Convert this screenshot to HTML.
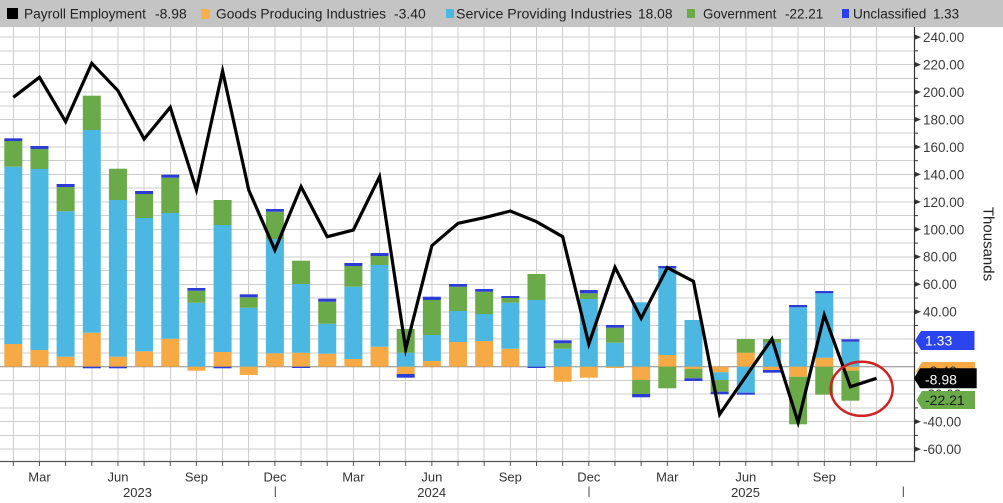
<!DOCTYPE html>
<html><head><meta charset="utf-8"><style>
html,body{margin:0;padding:0;background:#fff;}
svg{display:block;font-family:"Liberation Sans",Arial,sans-serif;}
.o{fill:#f6aa45}.b{fill:#4cb8e2}.g{fill:#6aaa48}.u{fill:#2c3dd6}
.gl{stroke:#cdcdcd;stroke-width:1;shape-rendering:crispEdges}
.yl{font-size:13.5px;fill:#3b3b3b}
.ml{font-size:13px;fill:#333;text-anchor:middle}
.lg{font-size:14px;fill:#222}
</style></head><body>
<svg width="1003" height="503" viewBox="0 0 1003 503" xmlns="http://www.w3.org/2000/svg">
<rect x="0" y="0" width="1003" height="503" fill="#fff"/>
<!-- legend bar -->
<rect x="0" y="0" width="1003" height="27" fill="#c4c4c4"/>
<rect x="7" y="8" width="11" height="11" fill="#000"/>
<text class="lg" x="24" y="18.5" textLength="122" lengthAdjust="spacingAndGlyphs">Payroll Employment</text>
<text class="lg" x="155" y="18.5" textLength="31.7" lengthAdjust="spacingAndGlyphs">-8.98</text>
<rect x="201" y="9" width="9" height="10" fill="#f6b14a"/>
<text class="lg" x="216" y="18.5" textLength="170" lengthAdjust="spacingAndGlyphs">Goods Producing Industries</text>
<text class="lg" x="394" y="18.5" textLength="31.7" lengthAdjust="spacingAndGlyphs">-3.40</text>
<rect x="446" y="9" width="8" height="9" fill="#4cb8e2"/>
<text class="lg" x="456" y="18.5" textLength="176" lengthAdjust="spacingAndGlyphs">Service Providing Industries</text>
<text class="lg" x="638" y="18.5" textLength="34.5" lengthAdjust="spacingAndGlyphs">18.08</text>
<rect x="687" y="9" width="8" height="9" fill="#6aaa48"/>
<text class="lg" x="703" y="18.5" textLength="73.3" lengthAdjust="spacingAndGlyphs">Government</text>
<text class="lg" x="785" y="18.5" textLength="38.3" lengthAdjust="spacingAndGlyphs">-22.21</text>
<rect x="842" y="9" width="7" height="9" fill="#2a3ef0"/>
<text class="lg" x="853" y="18.5" textLength="73.3" lengthAdjust="spacingAndGlyphs">Unclassified</text>
<text class="lg" x="933" y="18.5" textLength="26" lengthAdjust="spacingAndGlyphs">1.33</text>

<!-- horizontal gridlines -->
<g class="gl">
<line x1="0" x2="914" y1="37.1" y2="37.1"/><line x1="0" x2="914" y1="50.8" y2="50.8"/>
<line x1="0" x2="914" y1="64.6" y2="64.6"/><line x1="0" x2="914" y1="78.3" y2="78.3"/>
<line x1="0" x2="914" y1="92.0" y2="92.0"/><line x1="0" x2="914" y1="105.8" y2="105.8"/>
<line x1="0" x2="914" y1="119.5" y2="119.5"/><line x1="0" x2="914" y1="133.2" y2="133.2"/>
<line x1="0" x2="914" y1="147.0" y2="147.0"/><line x1="0" x2="914" y1="160.7" y2="160.7"/>
<line x1="0" x2="914" y1="174.4" y2="174.4"/><line x1="0" x2="914" y1="188.2" y2="188.2"/>
<line x1="0" x2="914" y1="201.9" y2="201.9"/><line x1="0" x2="914" y1="215.6" y2="215.6"/>
<line x1="0" x2="914" y1="229.4" y2="229.4"/><line x1="0" x2="914" y1="243.1" y2="243.1"/>
<line x1="0" x2="914" y1="256.8" y2="256.8"/><line x1="0" x2="914" y1="270.6" y2="270.6"/>
<line x1="0" x2="914" y1="284.3" y2="284.3"/><line x1="0" x2="914" y1="298.0" y2="298.0"/>
<line x1="0" x2="914" y1="311.8" y2="311.8"/><line x1="0" x2="914" y1="325.5" y2="325.5"/>
<line x1="0" x2="914" y1="339.2" y2="339.2"/><line x1="0" x2="914" y1="353.0" y2="353.0"/>
<line x1="0" x2="914" y1="380.4" y2="380.4"/>
<line x1="0" x2="914" y1="394.2" y2="394.2"/><line x1="0" x2="914" y1="407.9" y2="407.9"/>
<line x1="0" x2="914" y1="421.6" y2="421.6"/><line x1="0" x2="914" y1="435.4" y2="435.4"/>
<line x1="0" x2="914" y1="449.1" y2="449.1"/>
</g>
<!-- vertical gridlines -->
<g class="gl">
<line x1="13.3" x2="13.3" y1="27" y2="461"/><line x1="39.46" x2="39.46" y1="27" y2="461"/>
<line x1="65.62" x2="65.62" y1="27" y2="461"/><line x1="91.78" x2="91.78" y1="27" y2="461"/>
<line x1="117.94" x2="117.94" y1="27" y2="461"/><line x1="144.1" x2="144.1" y1="27" y2="461"/>
<line x1="170.26" x2="170.26" y1="27" y2="461"/><line x1="196.42" x2="196.42" y1="27" y2="461"/>
<line x1="222.58" x2="222.58" y1="27" y2="461"/><line x1="248.74" x2="248.74" y1="27" y2="461"/>
<line x1="274.9" x2="274.9" y1="27" y2="461"/><line x1="301.06" x2="301.06" y1="27" y2="461"/>
<line x1="327.22" x2="327.22" y1="27" y2="461"/><line x1="353.38" x2="353.38" y1="27" y2="461"/>
<line x1="379.54" x2="379.54" y1="27" y2="461"/><line x1="405.7" x2="405.7" y1="27" y2="461"/>
<line x1="431.86" x2="431.86" y1="27" y2="461"/><line x1="458.02" x2="458.02" y1="27" y2="461"/>
<line x1="484.18" x2="484.18" y1="27" y2="461"/><line x1="510.34" x2="510.34" y1="27" y2="461"/>
<line x1="536.5" x2="536.5" y1="27" y2="461"/><line x1="562.66" x2="562.66" y1="27" y2="461"/>
<line x1="588.82" x2="588.82" y1="27" y2="461"/><line x1="614.98" x2="614.98" y1="27" y2="461"/>
<line x1="641.14" x2="641.14" y1="27" y2="461"/><line x1="667.3" x2="667.3" y1="27" y2="461"/>
<line x1="693.46" x2="693.46" y1="27" y2="461"/><line x1="719.62" x2="719.62" y1="27" y2="461"/>
<line x1="745.78" x2="745.78" y1="27" y2="461"/><line x1="771.94" x2="771.94" y1="27" y2="461"/>
<line x1="798.1" x2="798.1" y1="27" y2="461"/><line x1="824.26" x2="824.26" y1="27" y2="461"/>
<line x1="850.42" x2="850.42" y1="27" y2="461"/><line x1="876.58" x2="876.58" y1="27" y2="461"/>
</g>
<!-- zero line -->
<line x1="0" x2="914" y1="366.7" y2="366.7" stroke="#8a8a8a" stroke-width="1"/>

<!-- bars -->
<g>
<rect class="o" x="4.3" y="344" width="18" height="22.7"/><rect class="b" x="4.3" y="166.7" width="18" height="177.3"/><rect class="g" x="4.3" y="141" width="18" height="25.7"/><rect class="u" x="4.3" y="138.3" width="18" height="2.7"/>
<rect class="o" x="30.46" y="350" width="18" height="16.7"/><rect class="b" x="30.46" y="169" width="18" height="181"/><rect class="g" x="30.46" y="149" width="18" height="20"/><rect class="u" x="30.46" y="146" width="18" height="3"/>
<rect class="o" x="56.62" y="356.7" width="18" height="10"/><rect class="b" x="56.62" y="211.3" width="18" height="145.4"/><rect class="g" x="56.62" y="187" width="18" height="24.3"/><rect class="u" x="56.62" y="184" width="18" height="3"/>
<rect class="o" x="82.78" y="332.7" width="18" height="34"/><rect class="b" x="82.78" y="130" width="18" height="202.7"/><rect class="g" x="82.78" y="95.7" width="18" height="34.3"/><rect class="u" x="82.78" y="366.7" width="18" height="1.6"/>
<rect class="o" x="108.94" y="356.7" width="18" height="10"/><rect class="b" x="108.94" y="200" width="18" height="156.7"/><rect class="g" x="108.94" y="168.7" width="18" height="31.3"/><rect class="u" x="108.94" y="366.7" width="18" height="1.6"/>
<rect class="o" x="135.1" y="351.3" width="18" height="15.4"/><rect class="b" x="135.1" y="218" width="18" height="133.3"/><rect class="g" x="135.1" y="194" width="18" height="24"/><rect class="u" x="135.1" y="191" width="18" height="3"/>
<rect class="o" x="161.26" y="338.7" width="18" height="28"/><rect class="b" x="161.26" y="213" width="18" height="125.7"/><rect class="g" x="161.26" y="177.7" width="18" height="35.3"/><rect class="u" x="161.26" y="174.7" width="18" height="3"/>
<rect class="b" x="187.42" y="302.7" width="18" height="64"/><rect class="g" x="187.42" y="290.7" width="18" height="12"/><rect class="u" x="187.42" y="288" width="18" height="2.7"/><rect class="o" x="187.42" y="366.7" width="18" height="4"/>
<rect class="o" x="213.58" y="352" width="18" height="14.7"/><rect class="b" x="213.58" y="225" width="18" height="127"/><rect class="g" x="213.58" y="200" width="18" height="25"/><rect class="u" x="213.58" y="366.7" width="18" height="1.6"/>
<rect class="b" x="239.74" y="307.7" width="18" height="59"/><rect class="g" x="239.74" y="297.3" width="18" height="10.4"/><rect class="u" x="239.74" y="294.3" width="18" height="3"/><rect class="o" x="239.74" y="366.7" width="18" height="8.3"/>
<rect class="o" x="265.9" y="353.3" width="18" height="13.4"/><rect class="b" x="265.9" y="239" width="18" height="114.3"/><rect class="g" x="265.9" y="211.7" width="18" height="27.3"/><rect class="u" x="265.9" y="209" width="18" height="2.7"/>
<rect class="o" x="292.06" y="352.7" width="18" height="14"/><rect class="b" x="292.06" y="284" width="18" height="68.7"/><rect class="g" x="292.06" y="260.7" width="18" height="23.3"/><rect class="u" x="292.06" y="366.7" width="18" height="1.3"/>
<rect class="o" x="318.22" y="353.7" width="18" height="13"/><rect class="b" x="318.22" y="323.7" width="18" height="30"/><rect class="g" x="318.22" y="301.7" width="18" height="22"/><rect class="u" x="318.22" y="298.7" width="18" height="3"/>
<rect class="o" x="344.38" y="359" width="18" height="7.7"/><rect class="b" x="344.38" y="286.7" width="18" height="72.3"/><rect class="g" x="344.38" y="266" width="18" height="20.7"/><rect class="u" x="344.38" y="263" width="18" height="3"/>
<rect class="o" x="370.54" y="346.7" width="18" height="20"/><rect class="b" x="370.54" y="265" width="18" height="81.7"/><rect class="g" x="370.54" y="256" width="18" height="9"/><rect class="u" x="370.54" y="253" width="18" height="3"/>
<rect class="b" x="396.7" y="352.7" width="18" height="14"/><rect class="g" x="396.7" y="329" width="18" height="23.7"/><rect class="o" x="396.7" y="366.7" width="18" height="7.3"/><rect class="u" x="396.7" y="374" width="18" height="3.7"/>
<rect class="o" x="422.86" y="361" width="18" height="5.7"/><rect class="b" x="422.86" y="335" width="18" height="26"/><rect class="g" x="422.86" y="300" width="18" height="35"/><rect class="u" x="422.86" y="296.7" width="18" height="3.3"/>
<rect class="o" x="449.02" y="342" width="18" height="24.7"/><rect class="b" x="449.02" y="311" width="18" height="31"/><rect class="g" x="449.02" y="286.7" width="18" height="24.3"/><rect class="u" x="449.02" y="284" width="18" height="2.7"/>
<rect class="o" x="475.18" y="341" width="18" height="25.7"/><rect class="b" x="475.18" y="314" width="18" height="27"/><rect class="g" x="475.18" y="291.7" width="18" height="22.3"/><rect class="u" x="475.18" y="289" width="18" height="2.7"/>
<rect class="o" x="501.34" y="348.7" width="18" height="18"/><rect class="b" x="501.34" y="302.7" width="18" height="46"/><rect class="g" x="501.34" y="298" width="18" height="4.7"/><rect class="u" x="501.34" y="296" width="18" height="2"/>
<rect class="b" x="527.5" y="300" width="18" height="66.7"/><rect class="g" x="527.5" y="274" width="18" height="26"/><rect class="u" x="527.5" y="366.7" width="18" height="1.3"/>
<rect class="b" x="553.66" y="348.7" width="18" height="18"/><rect class="g" x="553.66" y="343.3" width="18" height="5.4"/><rect class="u" x="553.66" y="340.3" width="18" height="3"/><rect class="o" x="553.66" y="366.7" width="18" height="15"/>
<rect class="b" x="579.82" y="299" width="18" height="67.7"/><rect class="g" x="579.82" y="293.3" width="18" height="5.7"/><rect class="u" x="579.82" y="290" width="18" height="3.3"/><rect class="o" x="579.82" y="366.7" width="18" height="11"/>
<rect class="b" x="605.98" y="342.7" width="18" height="24"/><rect class="g" x="605.98" y="327.7" width="18" height="15"/><rect class="u" x="605.98" y="325" width="18" height="2.7"/><rect class="o" x="605.98" y="366.7" width="18" height="1.3"/>
<rect class="b" x="632.14" y="302.3" width="18" height="64.4"/><rect class="o" x="632.14" y="366.7" width="18" height="13.3"/><rect class="g" x="632.14" y="380" width="18" height="14"/><rect class="u" x="632.14" y="394" width="18" height="3.3"/>
<rect class="o" x="658.3" y="355" width="18" height="11.7"/><rect class="b" x="658.3" y="268.3" width="18" height="86.7"/><rect class="u" x="658.3" y="266" width="18" height="2.3"/><rect class="g" x="658.3" y="366.7" width="18" height="21.6"/>
<rect class="b" x="684.46" y="320" width="18" height="46.7"/><rect class="o" x="684.46" y="366.7" width="18" height="2.3"/><rect class="g" x="684.46" y="369" width="18" height="9.3"/><rect class="u" x="684.46" y="378.3" width="18" height="2.7"/>
<rect class="o" x="710.62" y="366.7" width="18" height="5.6"/><rect class="b" x="710.62" y="372.3" width="18" height="7.7"/><rect class="g" x="710.62" y="380" width="18" height="11.7"/><rect class="u" x="710.62" y="391.7" width="18" height="2.6"/>
<rect class="o" x="736.78" y="352.7" width="18" height="14"/><rect class="g" x="736.78" y="339" width="18" height="13.7"/><rect class="b" x="736.78" y="366.7" width="18" height="26"/><rect class="u" x="736.78" y="392.7" width="18" height="2"/>
<rect class="b" x="762.94" y="342.7" width="18" height="24"/><rect class="g" x="762.94" y="339" width="18" height="3.7"/><rect class="o" x="762.94" y="366.7" width="18" height="3.3"/><rect class="u" x="762.94" y="370" width="18" height="2.7"/>
<rect class="b" x="789.1" y="307.3" width="18" height="59.4"/><rect class="u" x="789.1" y="305" width="18" height="2.3"/><rect class="o" x="789.1" y="366.7" width="18" height="10"/><rect class="g" x="789.1" y="376.7" width="18" height="47.6"/>
<rect class="o" x="815.26" y="357.7" width="18" height="9"/><rect class="b" x="815.26" y="293.3" width="18" height="64.4"/><rect class="u" x="815.26" y="291" width="18" height="2.3"/><rect class="g" x="815.26" y="366.7" width="18" height="28"/>
<rect class="b" x="841.42" y="341.7" width="18" height="25"/><rect class="u" x="841.42" y="339.3" width="18" height="2.4"/><rect class="o" x="841.42" y="366.7" width="18" height="4"/><rect class="g" x="841.42" y="370.7" width="18" height="30"/>
</g>

<!-- payroll line -->
<polyline fill="none" stroke="#000" stroke-width="3.2" stroke-linejoin="miter" stroke-miterlimit="10" points="13.3,97.3 39.46,77.3 65.62,121.7 91.78,63.3 117.94,90.7 144.1,139 170.26,107.3 196.42,190 222.58,71 248.74,190 274.9,250 301.06,186.7 327.22,236.7 353.38,230 379.54,176.7 405.7,349 431.86,245.7 458.02,223.3 484.18,217.7 510.34,211 536.5,221.7 562.66,236.7 588.82,344 614.98,267.3 641.14,318.3 667.3,267.7 693.46,281.3 719.62,414.3 745.78,376.5 771.94,339 798.1,422.3 824.26,315 850.42,386.7 876.58,378.3"/>

<!-- red circle -->
<ellipse cx="861.7" cy="388.8" rx="31" ry="27" fill="none" stroke="#d02222" stroke-width="2.5"/>

<!-- axes -->
<line x1="914.5" x2="914.5" y1="27" y2="462" stroke="#333" stroke-width="1.2"/>
<line x1="0" x2="915" y1="461.5" y2="461.5" stroke="#555" stroke-width="1.2"/>
<!-- bottom ticks -->
<g stroke="#555" stroke-width="1">
<line x1="13.3" x2="13.3" y1="461" y2="466"/><line x1="39.46" x2="39.46" y1="461" y2="466"/><line x1="65.62" x2="65.62" y1="461" y2="466"/><line x1="91.78" x2="91.78" y1="461" y2="466"/><line x1="117.94" x2="117.94" y1="461" y2="466"/><line x1="144.1" x2="144.1" y1="461" y2="466"/><line x1="170.26" x2="170.26" y1="461" y2="466"/><line x1="196.42" x2="196.42" y1="461" y2="466"/><line x1="222.58" x2="222.58" y1="461" y2="466"/><line x1="248.74" x2="248.74" y1="461" y2="466"/><line x1="274.9" x2="274.9" y1="461" y2="466"/><line x1="301.06" x2="301.06" y1="461" y2="466"/><line x1="327.22" x2="327.22" y1="461" y2="466"/><line x1="353.38" x2="353.38" y1="461" y2="466"/><line x1="379.54" x2="379.54" y1="461" y2="466"/><line x1="405.7" x2="405.7" y1="461" y2="466"/><line x1="431.86" x2="431.86" y1="461" y2="466"/><line x1="458.02" x2="458.02" y1="461" y2="466"/><line x1="484.18" x2="484.18" y1="461" y2="466"/><line x1="510.34" x2="510.34" y1="461" y2="466"/><line x1="536.5" x2="536.5" y1="461" y2="466"/><line x1="562.66" x2="562.66" y1="461" y2="466"/><line x1="588.82" x2="588.82" y1="461" y2="466"/><line x1="614.98" x2="614.98" y1="461" y2="466"/><line x1="641.14" x2="641.14" y1="461" y2="466"/><line x1="667.3" x2="667.3" y1="461" y2="466"/><line x1="693.46" x2="693.46" y1="461" y2="466"/><line x1="719.62" x2="719.62" y1="461" y2="466"/><line x1="745.78" x2="745.78" y1="461" y2="466"/><line x1="771.94" x2="771.94" y1="461" y2="466"/><line x1="798.1" x2="798.1" y1="461" y2="466"/><line x1="824.26" x2="824.26" y1="461" y2="466"/><line x1="850.42" x2="850.42" y1="461" y2="466"/><line x1="876.58" x2="876.58" y1="461" y2="466"/>
</g>
<!-- year separators -->
<g stroke="#444" stroke-width="1">
<line x1="275.3" x2="275.3" y1="486.5" y2="497"/>
<line x1="589" x2="589" y1="486.5" y2="497"/>
<line x1="903.3" x2="903.3" y1="486.5" y2="497"/>
</g>
<!-- month labels -->
<text class="ml" x="39.5" y="481.5">Mar</text>
<text class="ml" x="118" y="481.5">Jun</text>
<text class="ml" x="196.4" y="481.5">Sep</text>
<text class="ml" x="275" y="481.5">Dec</text>
<text class="ml" x="353.4" y="481.5">Mar</text>
<text class="ml" x="431.9" y="481.5">Jun</text>
<text class="ml" x="510.3" y="481.5">Sep</text>
<text class="ml" x="588.8" y="481.5">Dec</text>
<text class="ml" x="667.3" y="481.5">Mar</text>
<text class="ml" x="745.8" y="481.5">Jun</text>
<text class="ml" x="824.3" y="481.5">Sep</text>
<text class="ml" x="137.5" y="497">2023</text>
<text class="ml" x="431.7" y="497">2024</text>
<text class="ml" x="745.5" y="497">2025</text>

<!-- right axis minor ticks -->
<g stroke="#333" stroke-width="1">
<line x1="914" x2="918" y1="50.8" y2="50.8"/><line x1="914" x2="918" y1="78.3" y2="78.3"/><line x1="914" x2="918" y1="105.8" y2="105.8"/><line x1="914" x2="918" y1="133.2" y2="133.2"/><line x1="914" x2="918" y1="160.7" y2="160.7"/><line x1="914" x2="918" y1="188.2" y2="188.2"/><line x1="914" x2="918" y1="215.6" y2="215.6"/><line x1="914" x2="918" y1="243.1" y2="243.1"/><line x1="914" x2="918" y1="270.6" y2="270.6"/><line x1="914" x2="918" y1="298.0" y2="298.0"/><line x1="914" x2="918" y1="325.5" y2="325.5"/><line x1="914" x2="918" y1="353.0" y2="353.0"/><line x1="914" x2="918" y1="380.4" y2="380.4"/><line x1="914" x2="918" y1="407.9" y2="407.9"/><line x1="914" x2="918" y1="435.4" y2="435.4"/>
</g>
<!-- right axis arrows -->
<g fill="#333">
<polygon points="915,34.6 921,37.1 915,39.6"/><polygon points="915,62.1 921,64.6 915,67.1"/><polygon points="915,89.5 921,92 915,94.5"/><polygon points="915,117 921,119.5 915,122"/><polygon points="915,144.5 921,147 915,149.5"/><polygon points="915,171.9 921,174.4 915,176.9"/><polygon points="915,199.4 921,201.9 915,204.4"/><polygon points="915,226.9 921,229.4 915,231.9"/><polygon points="915,254.3 921,256.8 915,259.3"/><polygon points="915,281.8 921,284.3 915,286.8"/><polygon points="915,309.3 921,311.8 915,314.3"/><polygon points="915,419.1 921,421.6 915,424.1"/><polygon points="915,446.6 921,449.1 915,451.6"/>
</g>
<!-- right axis labels -->
<g class="yl">
<text x="923" y="42">240.00</text>
<text x="923" y="69.5">220.00</text>
<text x="923" y="97">200.00</text>
<text x="923" y="124.4">180.00</text>
<text x="923" y="151.9">160.00</text>
<text x="923" y="179.3">140.00</text>
<text x="923" y="206.8">120.00</text>
<text x="923" y="234.3">100.00</text>
<text x="923" y="261.7">80.00</text>
<text x="923" y="289.2">60.00</text>
<text x="923" y="316.7">40.00</text>
<text x="923" y="344.1">20.00</text>
<text x="923" y="371.6">0.00</text>
<text x="923" y="399.1">-20.00</text>
<text x="923" y="426.5">-40.00</text>
<text x="923" y="454">-60.00</text>
</g>
<text x="988" y="244" font-size="15" fill="#222" text-anchor="middle" transform="rotate(90 988 244)" dominant-baseline="central">Thousands</text>

<!-- value tags -->
<polygon points="915,340.5 921,331 974.5,331 974.5,350 921,350" fill="#2b44ee"/>
<text x="925" y="345.5" font-size="14" fill="#fff">1.33</text>
<polygon points="916,371.5 922,362 975,362 975,381 922,381" fill="#f6aa45"/>
<text x="925" y="376" font-size="14" fill="#333">-3.40</text>
<polygon points="914,378.3 920,368.3 976.7,368.3 976.7,388.3 920,388.3" fill="#000"/>
<text x="925" y="384.3" font-size="14" fill="#fff">-8.98</text>
<polygon points="916.5,400 922,391 975,391 975,409 922,409" fill="#6aaa48"/>
<text x="925" y="405" font-size="14" fill="#1a1a1a">-22.21</text>
</svg>
</body></html>
